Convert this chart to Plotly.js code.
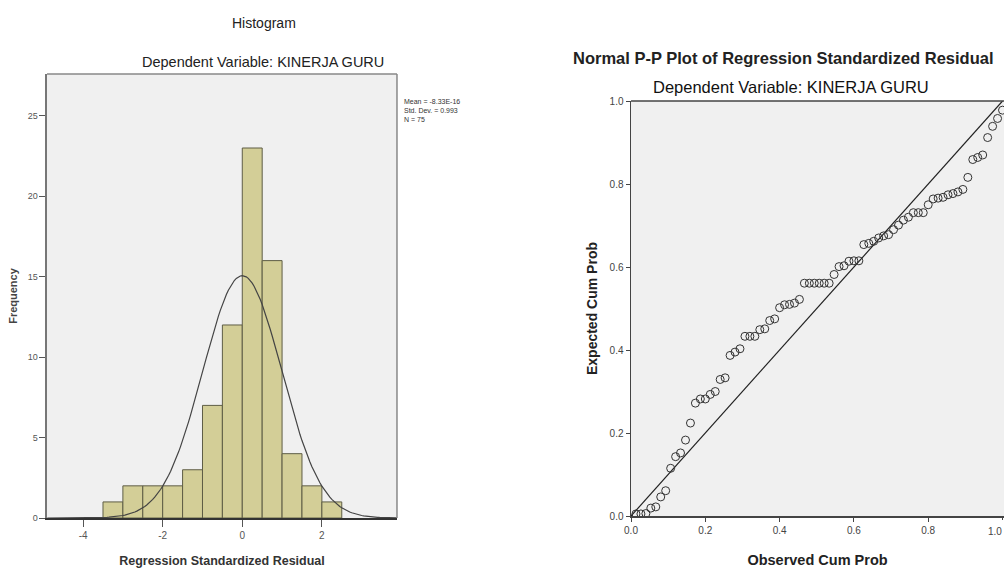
<!DOCTYPE html>
<html><head><meta charset="utf-8">
<script src="https://cdn.plot.ly/plotly-3.0.1.min.js"></script>
<style>html,body{margin:0;padding:0;background:#fff;}#chart{width:1004px;height:575px;}</style>
</head><body><div id="chart"></div>
<script>
// Histogram data
const binCenters = [-3.25,-2.75,-2.25,-1.75,-1.25,-0.75,-0.25,0.25,0.75,1.25,1.75,2.25];
const frequencies = [1,2,2,2,3,7,12,23,16,4,2,1];
const binWidth = 0.5;
const residMean = 0;
const residSD = 0.993;
const residN = 75;
const histYTicks = [0,5,10,15,20,25];
const histXTicks = [-4,-2,0,2];

// P-P plot data
const expectedCumProb = [0.005,0.005,0.006,0.019,0.022,0.046,0.061,0.115,0.143,0.152,
  0.183,0.224,0.272,0.282,0.282,0.293,0.300,0.329,0.333,0.387,
  0.395,0.403,0.433,0.433,0.433,0.449,0.451,0.471,0.475,0.502,
  0.509,0.510,0.513,0.522,0.561,0.561,0.561,0.561,0.561,0.561,
  0.582,0.601,0.603,0.614,0.615,0.615,0.654,0.657,0.662,0.670,
  0.675,0.678,0.690,0.701,0.713,0.720,0.731,0.731,0.731,0.750,
  0.764,0.766,0.768,0.774,0.777,0.781,0.787,0.816,0.859,0.864,
  0.870,0.912,0.939,0.958,0.978];
const observedCumProb = expectedCumProb.map((_, i) => (i + 1) / expectedCumProb.length);
const ppTicks = [0,0.2,0.4,0.6,0.8];
const ppTickText = ['0.0','0.2','0.4','0.6','0.8'];
const ppYTicks = [0,0.2,0.4,0.6,0.8,1.0];
const ppYTickText = ['0.0','0.2','0.4','0.6','0.8','1.0'];

// Normal curve from stated mean / sd / N
const curveX = [];
for (let x = -4.9; x <= 3.9001; x += 0.05) curveX.push(x);
const curveY = curveX.map(x => residN * binWidth / (residSD * Math.sqrt(2 * Math.PI)) *
  Math.exp(-0.5 * Math.pow((x - residMean) / residSD, 2)));

const traces = [
  {type:'bar', x: binCenters, y: frequencies, width: binWidth, xaxis:'x', yaxis:'y',
   marker:{color:'#d3ce97', line:{color:'#5e5d45', width:1}}, hoverinfo:'x+y'},
  {type:'scatter', mode:'lines', x: curveX, y: curveY, xaxis:'x', yaxis:'y',
   line:{color:'#444', width:1.2}},
  {type:'scatter', mode:'lines', x:[0,1], y:[0,1], xaxis:'x2', yaxis:'y2',
   line:{color:'#222', width:1.2}},
  {type:'scatter', mode:'markers', x: observedCumProb, y: expectedCumProb, xaxis:'x2', yaxis:'y2',
   marker:{symbol:'circle-open', size:8, color:'#333', line:{width:1, color:'#333'}}}
];

const fontFam = 'Liberation Sans, Arial, sans-serif';
const layout = {
  width:1004, height:575, showlegend:false,
  margin:{l:0,r:0,t:0,b:0},
  paper_bgcolor:'#ffffff', plot_bgcolor:'#f0f0f0',
  font:{family:fontFam, color:'#222'},
  xaxis:{domain:[0.0468,0.3954], range:[-4.907,3.887], tickvals:histXTicks, ticktext:histXTicks.map(String),
    showgrid:false, zeroline:false, showline:true, linecolor:'#333', linewidth:1.5, mirror:false,
    ticks:'outside', ticklen:7, tickcolor:'#555', tickfont:{size:10, color:'#555'},
    title:{text:'<b>Regression Standardized Residual</b>', font:{size:12.5, color:'#333'}, standoff:16}, anchor:'y'},
  yaxis:{domain:[0.0991,0.8713], range:[0,27.6], tickvals:histYTicks, ticktext:histYTicks.map(String),
    showgrid:false, zeroline:false, showline:true, linecolor:'#777', linewidth:1.5,
    ticks:'outside', ticklen:6, tickcolor:'#555', tickfont:{size:9, color:'#555'},
    title:{text:'<b>Frequency</b>', font:{size:11, color:'#444'}, standoff:8}, anchor:'x'},
  xaxis2:{domain:[0.6285,1.0], range:[0,1.004], tickvals:ppTicks, ticktext:ppTickText,
    showgrid:false, zeroline:false, showline:true, linecolor:'#444', linewidth:1.5,
    ticks:'outside', ticklen:4, tickcolor:'#444', tickfont:{size:10, color:'#444'},
    title:{text:'<b>Observed Cum Prob</b>', font:{size:14.5, color:'#222'}, standoff:20}, anchor:'y2'},
  yaxis2:{domain:[0.1026,0.8243], range:[0,1], tickvals:ppYTicks, ticktext:ppYTickText,
    showgrid:false, zeroline:false, showline:true, linecolor:'#444', linewidth:1.5,
    ticks:'outside', ticklen:4, tickcolor:'#444', tickfont:{size:10, color:'#444'},
    title:{text:'<b>Expected Cum Prob</b>', font:{size:14, color:'#222'}, standoff:8}, anchor:'x2'},
  shapes:[
    {type:'line', xref:'paper', yref:'paper', x0:0.0468, x1:0.3954, y0:0.8713, y1:0.8713, line:{color:'#888', width:1.5}},
    {type:'line', xref:'paper', yref:'paper', x0:0.3954, x1:0.3954, y0:0.0991, y1:0.8713, line:{color:'#888', width:1.5}},
    {type:'line', xref:'paper', yref:'paper', x0:0.6285, x1:1.0, y0:0.8243, y1:0.8243, line:{color:'#444', width:1.5}},
    {type:'line', xref:'x2', yref:'paper', x0:1, x1:1, y0:0.1026, y1:0.1026-4/575, line:{color:'#444', width:1}}
  ],
  annotations:[
    {text:'1.0', xref:'paper', yref:'paper', x:1.0, y:1-524/575, showarrow:false, xanchor:'right', yanchor:'top', font:{size:10, color:'#444'}},
    {text:'Histogram', xref:'paper', yref:'paper', x:264/1004, y:1-23/575, showarrow:false, xanchor:'center', yanchor:'middle', font:{size:14, color:'#222'}},
    {text:'Dependent Variable: KINERJA GURU', xref:'paper', yref:'paper', x:263/1004, y:1-62/575, showarrow:false, xanchor:'center', yanchor:'middle', font:{size:14.5, color:'#222'}},
    {text:'Mean = -8.33E-16<br>Std. Dev. = 0.993<br>N = 75', xref:'paper', yref:'paper', x:402/1004, y:1-96/575, showarrow:false, xanchor:'left', yanchor:'top', align:'left', font:{size:7, color:'#333'}},
    {text:'<b>Normal P-P Plot of Regression Standardized Residual</b>', xref:'paper', yref:'paper', x:783/1004, y:1-58/575, showarrow:false, xanchor:'center', yanchor:'middle', font:{size:16.5, color:'#222'}},
    {text:'Dependent Variable: KINERJA GURU', xref:'paper', yref:'paper', x:791/1004, y:1-87/575, showarrow:false, xanchor:'center', yanchor:'middle', font:{size:16.5, color:'#111'}}
  ]
};
Plotly.newPlot('chart', traces, layout, {displayModeBar:false, staticPlot:true});
</script></body></html>
